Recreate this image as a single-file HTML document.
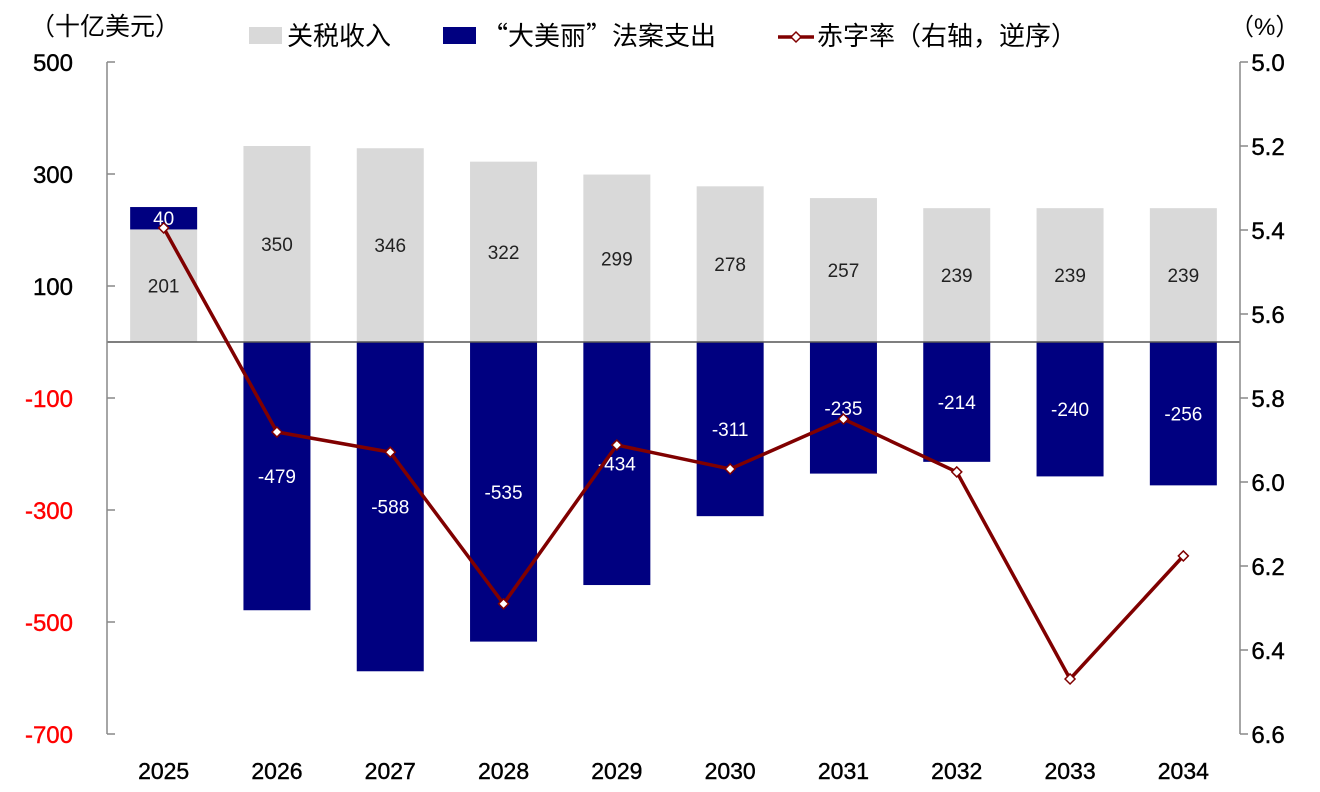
<!DOCTYPE html>
<html><head><meta charset="utf-8"><style>
body{margin:0;background:#fff}
svg{display:block;font-family:"Liberation Sans","Noto Sans CJK SC",sans-serif}
</style></head><body>
<svg id="c" width="1320" height="792"></svg>
<script>
const years=['2025','2026','2027','2028','2029','2030','2031','2032','2033','2034'];
const tariff=[201,350,346,322,299,278,257,239,239,239];
const spending=[40,-479,-588,-535,-434,-311,-235,-214,-240,-256];
const deficit=[5.395,5.881,5.929,6.29,5.912,5.969,5.85,5.976,6.469,6.176];
const leftTicks=[500,300,100,-100,-300,-500,-700];
const rightTicks=[5.0,5.2,5.4,5.6,5.8,6.0,6.2,6.4,6.6];

const NS='http://www.w3.org/2000/svg';
const svg=document.getElementById('c');
function mk(t,a,txt){const e=document.createElementNS(NS,t);for(const k in a)e.setAttribute(k,a[k]);if(txt!=null)e.textContent=txt;svg.appendChild(e);return e;}
const X0=107,X1=1240,Y0=62,Y1=734;
const yL=v=>Y0+(500-v)/1200*(Y1-Y0);
const yR=v=>Y0+(v-5.0)/1.6*(Y1-Y0);
const step=(X1-X0)/years.length;
const xC=i=>X0+step*(i+0.5);
const bw=67;

years.forEach((y,i)=>{
  let r=mk('rect',{x:xC(i)-bw/2,y:yL(tariff[i]),width:bw,height:yL(0)-yL(tariff[i]),fill:'#d9d9d9'});
  
  
  const s=spending[i];
  let top,bot;
  if(s>=0){top=yL(tariff[i]+s);bot=yL(tariff[i]);}else{top=yL(0);bot=yL(s);}
  let b=mk('rect',{x:xC(i)-bw/2,y:top,width:bw,height:bot-top,fill:'#000080'});
  
  
  let t1=mk('text',{x:xC(i),y:(yL(0)+yL(tariff[i]))/2+7,'text-anchor':'middle','font-size':19,fill:'#222'},tariff[i]);
  
  
  let t2=mk('text',{x:xC(i),y:(top+bot)/2+7,'text-anchor':'middle','font-size':19,fill:'#fff'},s);
  
  
  let xl=mk('text',{x:xC(i),y:779,'text-anchor':'middle','font-size':23,fill:'#000','stroke':'#000','stroke-width':0.4},y);
  
  
});
let z=mk('line',{x1:X0,x2:X1,y1:yL(0),y2:yL(0),stroke:'#555','stroke-width':1.5});


let la=mk('line',{x1:X0,x2:X0,y1:Y0,y2:Y1,stroke:'#888','stroke-width':1.5});


let ra=mk('line',{x1:X1,x2:X1,y1:Y0,y2:Y1,stroke:'#888','stroke-width':1.5});


leftTicks.forEach(v=>{
  mk('line',{x1:X0,x2:X0+8,y1:yL(v),y2:yL(v),stroke:'#888','stroke-width':1.5});
  let t=mk('text',{x:73,y:yL(v)+9,'text-anchor':'end','font-size':24,fill:v<0?'#ff0000':'#000','stroke':v<0?'#ff0000':'#000','stroke-width':0.4},v);
  
  
});
rightTicks.forEach(v=>{
  mk('line',{x1:X1,x2:X1+8,y1:yR(v),y2:yR(v),stroke:'#888','stroke-width':1.5});
  let t=mk('text',{x:1268,y:yR(v)+9,'text-anchor':'middle','font-size':24,fill:'#000','stroke':'#000','stroke-width':0.4},v.toFixed(1));
  
  
});
let pl=mk('polyline',{points:deficit.map((d,i)=>xC(i)+','+yR(d)).join(' '),fill:'none',stroke:'#800000','stroke-width':3.5});


deficit.forEach((d,i)=>{
  let p=mk('path',{d:`M${xC(i)-5},${yR(d)} L${xC(i)},${yR(d)-5} L${xC(i)+5},${yR(d)} L${xC(i)},${yR(d)+5}Z`,fill:'#fff',stroke:'#800000','stroke-width':1.5});
  
  
});
let ut=mk('text',{x:30,y:35,'font-size':25,fill:'#000'},'（十亿美元）');


let rt=mk('text',{x:1230,y:35,'font-size':24,fill:'#000'},'（%）');


let l1=mk('rect',{x:249,y:27,width:33,height:17,fill:'#d9d9d9'});


let lt1=mk('text',{x:287,y:45,'font-size':26,fill:'#000'},'关税收入');


let l2=mk('rect',{x:443,y:27,width:33,height:17,fill:'#000080'});


let lt2=mk('text',{x:482,y:45,'font-size':26,fill:'#000','font-family':'"Noto Sans CJK SC",sans-serif'},'“大美丽”法案支出');


mk('line',{x1:778,x2:814,y1:37,y2:37,stroke:'#800000','stroke-width':3.5});
let l3=mk('path',{d:'M791,37 L796,32 L801,37 L796,42Z',fill:'#fff',stroke:'#800000','stroke-width':1.5});


let lt3=mk('text',{x:817,y:45,'font-size':26,fill:'#000'},'赤字率（右轴，逆序）');


</script>
</body></html>
